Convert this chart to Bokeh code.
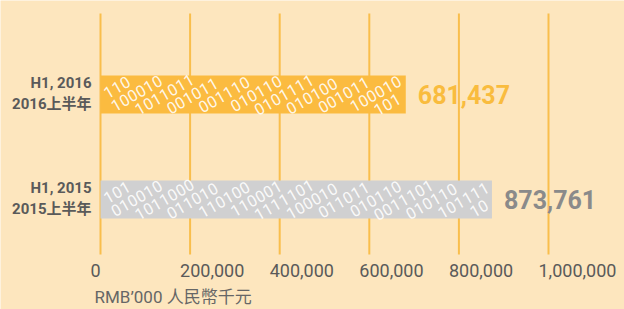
import math
from bokeh.plotting import figure
from bokeh.models import Range1d
from bokeh.core.properties import value
from bokeh.embed import file_html
from bokeh.resources import INLINE

# ---- data ----
categories_en = ["H1, 2016", "H1, 2015"]
categories_zh = ["2016上半年", "2015上半年"]
amounts = [681437, 873761]
tick_values = [0, 200000, 400000, 600000, 800000, 1000000]
tick_labels = ["0", "200,000", "400,000", "600,000", "800,000", "1,000,000"]
axis_title = "RMB\u2019000 人民幣千元"

# ---- style ----
BG = "#FDE6BE"
GRID = "#F9BE4C"
BAR_COLORS = ["#FBBB40", "#D0D0D1"]
VAL_COLORS = ["#F9BC3E", "#8A8A8A"]
TXT = "#5A5A5A"
FONT = "Roboto, 'Noto Sans CJK TC'"

W, H = 624, 309
PX_PER_X = 0.448 / 1000.0      # pixels per data unit along x
PX_PER_Y = 105.0               # pixels per category step
X0_PX = 100                    # pixel of x=0 inside the figure
TOP_CAT_PX = 94                # pixel of first category centre

n = len(amounts)
ypos = [n - i for i in range(n)]

x_start = -X0_PX / PX_PER_X
x_end = (W - X0_PX) / PX_PER_X
y_end = ypos[0] + TOP_CAT_PX / PX_PER_Y
y_start = y_end - H / PX_PER_Y

p = figure(width=W, height=H, output_backend="svg", toolbar_location=None,
           x_range=Range1d(x_start, x_end), y_range=Range1d(y_start, y_end),
           min_border=0, min_border_left=0, min_border_right=0,
           min_border_top=0, min_border_bottom=0)
p.background_fill_color = BG
p.border_fill_color = BG
p.outline_line_color = None
p.axis.visible = False
p.grid.visible = False

# grid lines
grid_top = ypos[0] + 81 / PX_PER_Y
grid_bottom = ypos[-1] - 55 / PX_PER_Y
p.segment(x0=tick_values, x1=tick_values,
          y0=[grid_bottom] * len(tick_values), y1=[grid_top] * len(tick_values),
          line_color=GRID, line_width=2)

# bars
bar_h_px = 38
p.hbar(y=ypos, left=0, right=amounts, height=bar_h_px / PX_PER_Y,
       fill_color=BAR_COLORS, line_color=None)

# binary-digit texture on bars
pattern = "1110101000100101101100010110100111010010110001011"
ang = math.radians(30)
ux, uy = math.cos(ang), -math.sin(ang)
vx, vy = math.sin(ang), math.cos(ang)
step, row = 9.4, 15.0
bx, by, bt = [], [], []
for i, (amt, yc) in enumerate(zip(amounts, ypos)):
    wpx = amt * PX_PER_X
    for k in range(-40, 40):
        for j in range(-10, 140):
            px = j * step * ux + k * row * vx
            py = j * step * uy + k * row * vy + 2
            if 4 <= px <= wpx - 4 and abs(py) <= bar_h_px / 2 - 4.5:
                bx.append(px / PX_PER_X)
                by.append(yc - py / PX_PER_Y)
                bt.append(pattern[(j + 5 * k + 3 * i) % len(pattern)])
p.text(x=bx, y=by, text=bt, angle=ang, text_align="center",
       text_baseline="middle", text_color="white", text_alpha=0.9,
       text_font=value("Roboto"), text_font_style="normal",
       text_font_size="16px")

# value labels
p.text(x=amounts, y=ypos, text=[f"{a:,}" for a in amounts],
       x_offset=12, text_align="left", text_baseline="middle",
       text_color=VAL_COLORS, text_font=value(FONT),
       text_font_style="bold", text_font_size="25px")

# category labels
p.text(x=[0] * n, y=ypos,
       text=[f"{e}\n{z}" for e, z in zip(categories_en, categories_zh)],
       x_offset=-9, y_offset=-1, text_align="right", text_baseline="middle",
       text_color=TXT, text_font=value(FONT), text_font_style="bold",
       text_font_size="15px", text_line_height=1.2)

# tick labels
p.text(x=tick_values, y=[grid_bottom] * len(tick_values), text=tick_labels,
       x_offset=-10, y_offset=16, text_align="left", text_baseline="middle",
       text_color=TXT, text_font=value(FONT), text_font_size="18px")

# axis title
p.text(x=[0], y=[grid_bottom], text=[axis_title], x_offset=-6, y_offset=42,
       text_align="left", text_baseline="middle", text_color="#666666",
       text_font=value(FONT), text_font_size="17px")

open("out.html", "w").write(file_html(p, INLINE))
